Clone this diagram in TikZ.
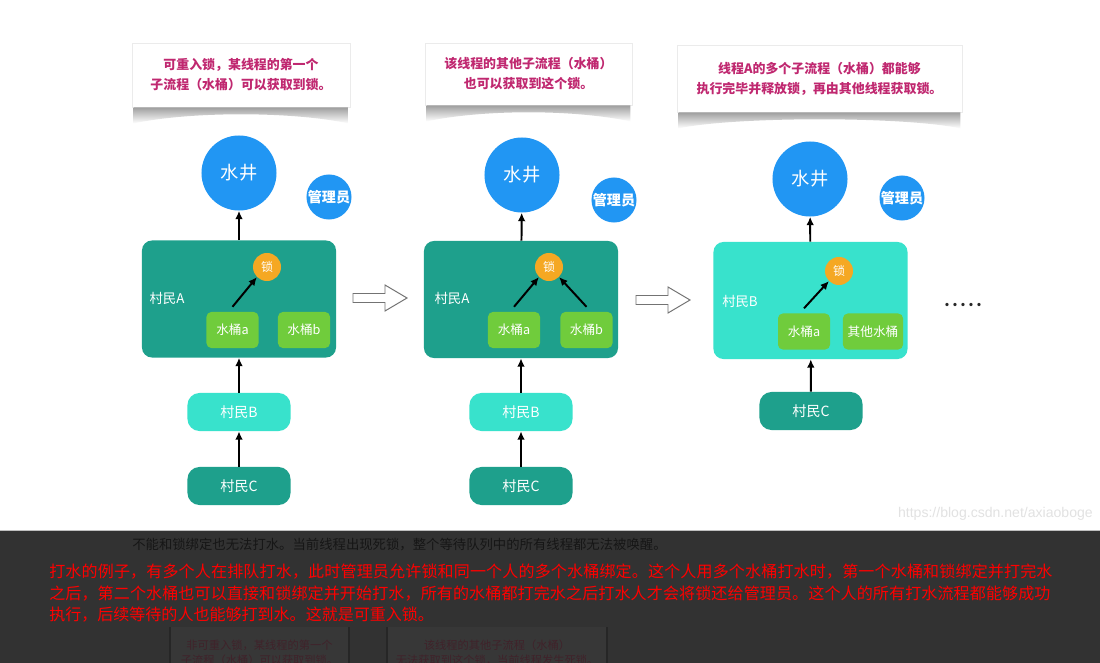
\documentclass[tikz,border=0pt]{standalone}
\usepackage{fontspec}
\setmainfont{Noto Sans CJK SC}
\newfontfamily\filigrane{Liberation Sans}
\usepackage{tikz}
\usetikzlibrary{arrows.meta, calc}
\usepackage{xcolor}
\definecolor{bleupuits}{RGB}{33,150,243}
\definecolor{sarcelle}{RGB}{30,160,140}
\definecolor{turquoise}{RGB}{56,226,204}
\definecolor{vertseau}{RGB}{112,204,60}
\definecolor{orangeverrou}{RGB}{245,168,35}
\definecolor{rosebulle}{RGB}{192,40,112}
\definecolor{bandeau}{RGB}{50,50,50}
\definecolor{grisfonce}{RGB}{22,22,22}
\definecolor{fantomefond}{RGB}{55,55,55}
\definecolor{fantomebord}{RGB}{38,38,38}
\definecolor{fantometexte}{RGB}{64,34,42}
\definecolor{filigranec}{RGB}{226,226,226}

% ligne justifiee : un \hfil entre chaque caractere
\def\justif#1#2{\hbox to #1{\justifA#2\relax}}
\def\justifA#1{\ifx#1\relax\else#1\expandafter\justifB\fi}
\def\justifB#1{\ifx#1\relax\else\hfil#1\expandafter\justifB\fi}

\begin{document}
\begin{tikzpicture}[
    x=0.025cm, y=-0.025cm,
    puits/.style={circle, fill=bleupuits, text=white, inner sep=0pt,
                  minimum size=1.875cm, font=\fontsize{13}{13}\selectfont},
    gardien/.style={circle, fill=bleupuits, text=white, inner sep=0pt,
                  minimum size=1.125cm, font=\fontsize{10}{10}\selectfont\bfseries},
    maison/.style={rounded corners=0.25cm, minimum width=4.85cm, minimum height=2.925cm},
    nom/.style={text=white, font=\fontsize{9.5}{9.5}\selectfont},
    verrou/.style={circle, fill=orangeverrou, text=white, inner sep=0pt,
                  minimum size=0.7cm, font=\fontsize{8.5}{8.5}\selectfont},
    seau/.style={rounded corners=0.12cm, fill=vertseau, text=white, inner sep=0pt,
                 minimum width=1.3cm, minimum height=0.9cm, font=\fontsize{9}{9}\selectfont},
    villageois/.style={rounded corners=0.3cm, text=white, minimum width=2.575cm,
                 minimum height=0.95cm, font=\fontsize{10}{10}\selectfont},
    bulle/.style={fill=white, draw=black!8, align=center, text=rosebulle,
                  font=\fontsize{9.2}{14.2}\selectfont\bfseries},
    fleche/.style={-{Latex[length=6pt, width=5.5pt]}, line width=1.4pt},
    creuse/.style={fill=white, draw=black!55, line width=0.7pt},
    rouge/.style={anchor=west, inner sep=0pt, text=red, font=\fontsize{11.4}{11.4}\selectfont},
    fantome/.style={text=fantometexte, align=center, font=\fontsize{8}{10.7}\selectfont},
  ]
    \clip (0,0) rectangle (1100,663);
    \fill[white] (0,0) rectangle (1100,663);

    % Bulles du haut
    \node[bulle, minimum width=5.45cm, minimum height=1.6cm] (bulle1) at (241,75)
      {可重入锁，某线程的第一个\\子流程（水桶）可以获取到锁。};
    \node[bulle, minimum width=5.175cm, minimum height=1.55cm] (bulle2) at (528.5,74)
      {该线程的其他子流程（水桶）\\也可以获取到这个锁。};
    \node[bulle, minimum width=7.125cm, minimum height=1.675cm] (bulle3) at (819.5,78.5)
      {线程A的多个子流程（水桶）都能够\\执行完毕并释放锁，再由其他线程获取锁。};
    % ombres sous les bulles
    \foreach \b in {bulle1,bulle2,bulle3}
      \shade[top color=black!38, bottom color=white]
        ($(\b.south west)+(2,0)$) -- ($(\b.south west)+(2,16)$)
        .. controls ($(\b.south west)+(60,4)$) and ($(\b.south east)+(-60,4)$)
        .. ($(\b.south east)+(-2,16)$) -- ($(\b.south east)+(-2,0)$) -- cycle;

    % Etape 1
    \node[puits] (puits1) at (239,173) {水井};
    \node[gardien] (gardien1) at (329,197) {管理员};
    \node[maison, fill=sarcelle] (maison1) at (239,299) {};
    \node[nom] (nom1) at (167,298) {村民A};
    \node[verrou] (verrou1) at (267,267) {锁};
    \node[seau] (seau1a) at (232.5,330) {水桶a};
    \node[seau] (seau1b) at (304,330) {水桶b};
    \node[villageois, fill=turquoise] (villB1) at (239,412) {村民B};
    \node[villageois, fill=sarcelle] (villC1) at (239,486) {村民C};

    \draw[fleche] (maison1) -- (puits1);
    \draw[fleche] ([yshift=3.5pt]seau1a.north) -- (verrou1.225);
    \draw[fleche] (villB1) -- (maison1);
    \draw[fleche] (villC1) -- (villB1);

    % Etape 2
    \node[puits] (puits2) at (522,175) {水井};
    \node[gardien] (gardien2) at (614,200) {管理员};
    \node[maison, fill=sarcelle] (maison2) at (521,299.5) {};
    \node[nom] (nom2) at (452,298) {村民A};
    \node[verrou] (verrou2) at (549,267) {锁};
    \node[seau] (seau2a) at (514,330) {水桶a};
    \node[seau] (seau2b) at (586.5,330) {水桶b};
    \node[villageois, fill=turquoise] (villB2) at (521,412) {村民B};
    \node[villageois, fill=sarcelle] (villC2) at (521,486) {村民C};

    \draw[fleche] (maison2) -- (puits2);
    \draw[fleche] ([yshift=3.5pt]seau2a.north) -- (verrou2.225);
    \draw[fleche] ([yshift=3.5pt]seau2b.north) -- (verrou2.315);
    \draw[fleche] (villB2) -- (maison2);
    \draw[fleche] (villC2) -- (villB2);

    % Etape 3
    \node[puits] (puits3) at (810,179) {水井};
    \node[gardien] (gardien3) at (902,198) {管理员};
    \node[maison, fill=turquoise] (maison3) at (810.5,300.5) {};
    \node[nom] (nom3) at (740,301) {村民B};
    \node[verrou] (verrou3) at (839,271) {锁};
    \node[seau] (seau3a) at (804,331.5) {水桶a};
    \node[seau, minimum width=1.5cm] (seau3b) at (873,331.5) {其他水桶};
    \node[villageois, fill=sarcelle] (villC3) at (811,411) {村民C};

    \draw[fleche] (maison3) -- (puits3);
    \draw[fleche] ([yshift=3.5pt]seau3a.north) -- (verrou3.225);
    \draw[fleche] (villC3) -- (maison3);

    \node[font=\fontsize{11}{11}\selectfont\bfseries, text=black!85] (suite) at (963,305)
      {.\,.\,.\,.\,.};

    % Fleches creuses entre les etapes
    \foreach \dx/\yy in {0/298, 283/300}
      \draw[creuse, shift={(\dx,\yy)}] (353,-4.5) -- (385,-4.5) -- (385,-13) -- (407,0)
        -- (385,13) -- (385,4.5) -- (353,4.5) -- cycle;

    \node[anchor=east, inner sep=0pt, text=filigranec,
          font=\filigrane\fontsize{10}{10}\selectfont] (url) at (1093,514)
      {https://blog.csdn.net/axiaoboge};

    % Bandeau sombre
    \fill[bandeau] (0,530) rectangle (1100,663);
    \draw[black!25, line width=0.5pt] (0,530) -- (1100,530);
    \fill[fantomefond] (170,627) rectangle (349,663);
    \fill[fantomefond] (387,627) rectangle (607,663);
    \draw[fantomebord, line width=1.2pt] (170,627) -- (170,663) (349,627) -- (349,663)
      (387,627) -- (387,663) (607,627) -- (607,663);
    \node[fantome] (fant1) at (259.5,652.5)
      {非可重入锁，某线程的第一个\\子流程（水桶）可以获取到锁。};
    \node[fantome] (fant2) at (497,652.5)
      {该线程的其他子流程（水桶）\\无法获取到这个锁，当前线程发生死锁。};

    \node[anchor=west, inner sep=0pt, text=grisfonce, font=\fontsize{9.5}{9.5}\selectfont]
      (gris) at (132,545)
      {不能和锁绑定也无法打水。当前线程出现死锁，整个等待队列中的所有线程都无法被唤醒。};

    \node[rouge] (ligne1) at (49,572)
      {\justif{25.075cm}{打水的例子，有多个人在排队打水，此时管理员允许锁和同一个人的多个水桶绑定。这个人用多个水桶打水时，第一个水桶和锁绑定并打完水}};
    \node[rouge] (ligne2) at (49,593.5)
      {\justif{25.025cm}{之后，第二个水桶也可以直接和锁绑定并开始打水，所有的水桶都打完水之后打水人才会将锁还给管理员。这个人的所有打水流程都能够成功}};
    \node[rouge] (ligne3) at (49,615)
      {执行，后续等待的人也能够打到水。这就是可重入锁。};
  \end{tikzpicture}
\end{document}
